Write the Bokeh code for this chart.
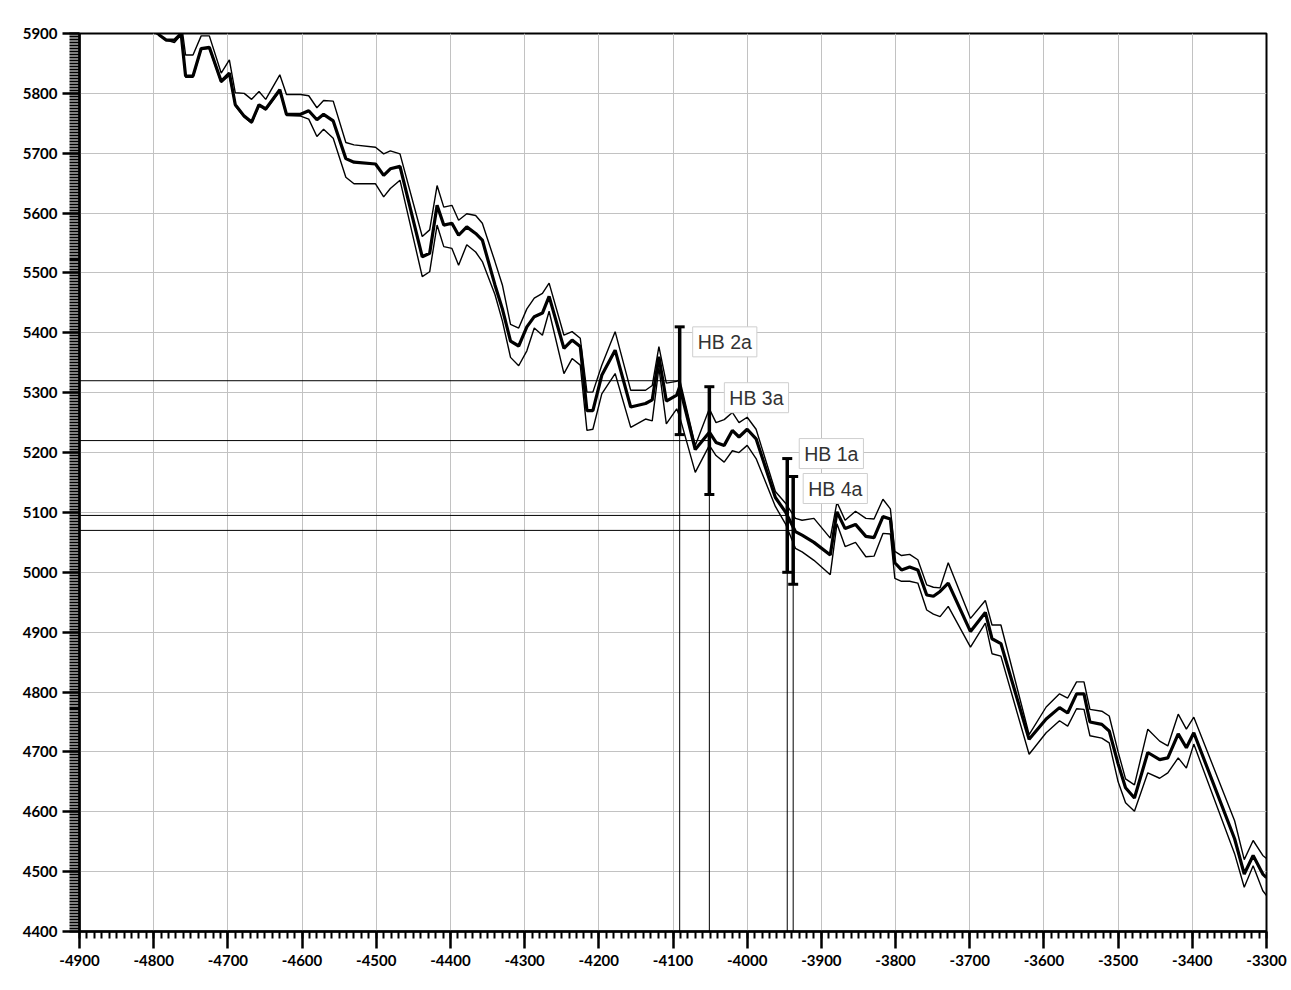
from bokeh.plotting import figure
from bokeh.models import (Range1d, SingleIntervalTicker, ColumnDataSource, Whisker,
                          TeeHead, Label, PrintfTickFormatter, BoxAnnotation)
from bokeh.embed import file_html
from bokeh.resources import INLINE

# ---- calibration curve (cal BC vs 14C BP) ----
cal_year = [
    -4805, -4792, -4783, -4772, -4763, -4757, -4747, -4736, -4725, -4709,
    -4698, -4690, -4678, -4668, -4658, -4649, -4630, -4621, -4602, -4591,
    -4580, -4571, -4558, -4541, -4530, -4501, -4490, -4481, -4468, -4438,
    -4428, -4418, -4409, -4398, -4389, -4378, -4366, -4357, -4340, -4330,
    -4319, -4308, -4297, -4287, -4276, -4267, -4247, -4236, -4225, -4216,
    -4208, -4196, -4178, -4157, -4137, -4128, -4119, -4109, -4095, -4091,
    -4070, -4051, -4042, -4031, -4020, -4011, -4000, -3988, -3962, -3948,
    -3935, -3926, -3910, -3888, -3879, -3868, -3854, -3840, -3829, -3817,
    -3807, -3801, -3792, -3781, -3770, -3758, -3749, -3740, -3729, -3699,
    -3679, -3670, -3658, -3620, -3597, -3579, -3568, -3556, -3546, -3538,
    -3522, -3512, -3500, -3490, -3478, -3460, -3444, -3433, -3419, -3408,
    -3398, -3343, -3330, -3318, -3305, -3300]

c14_mid = [
    5915, 5897, 5889, 5889, 5900, 5829, 5829, 5875, 5877, 5820,
    5834, 5781, 5762, 5752, 5781, 5774, 5806, 5765, 5765, 5771,
    5756, 5765, 5754, 5691, 5685, 5682, 5663, 5674, 5678, 5527,
    5533, 5613, 5580, 5583, 5563, 5577, 5566, 5555, 5480, 5440,
    5386, 5378, 5410, 5427, 5433, 5461, 5374, 5388, 5377, 5270,
    5270, 5329, 5371, 5276, 5282, 5288, 5360, 5286, 5296, 5310,
    5205, 5234, 5217, 5212, 5237, 5226, 5239, 5223, 5125, 5100,
    5068, 5062, 5050, 5029, 5101, 5073, 5080, 5060, 5058, 5093,
    5089, 5016, 5004, 5009, 5004, 4962, 4960, 4968, 4982, 4901,
    4933, 4889, 4881, 4721, 4755, 4774, 4765, 4797, 4797, 4750,
    4746, 4735, 4680, 4640, 4623, 4699, 4687, 4690, 4730, 4707,
    4732, 4555, 4496, 4527, 4496, 4490]

c14_hi = [
    5935, 5915, 5905, 5908, 5920, 5864, 5864, 5896, 5896, 5834,
    5856, 5801, 5800, 5790, 5803, 5790, 5831, 5798, 5798, 5796,
    5776, 5788, 5787, 5718, 5714, 5710, 5699, 5704, 5699, 5561,
    5572, 5646, 5610, 5613, 5588, 5599, 5596, 5583, 5519, 5480,
    5414, 5408, 5440, 5458, 5466, 5483, 5396, 5402, 5391, 5301,
    5301, 5346, 5402, 5304, 5304, 5312, 5377, 5316, 5319, 5322,
    5212, 5273, 5250, 5255, 5267, 5250, 5259, 5239, 5135, 5115,
    5090, 5087, 5090, 5057, 5117, 5087, 5102, 5090, 5089, 5122,
    5106, 5035, 5028, 5030, 5021, 4979, 4975, 4974, 5016, 4923,
    4953, 4912, 4912, 4729, 4775, 4797, 4790, 4817, 4817, 4771,
    4768, 4760, 4700, 4655, 4645, 4738, 4718, 4710, 4763, 4738,
    4758, 4585, 4520, 4552, 4527, 4522]

c14_lo = [
    5905, 5897, 5889, 5885, 5898, 5827, 5827, 5873, 5875, 5818,
    5830, 5779, 5760, 5750, 5779, 5772, 5804, 5763, 5762, 5757,
    5728, 5740, 5725, 5660, 5649, 5649, 5627, 5641, 5655, 5494,
    5502, 5580, 5544, 5541, 5513, 5547, 5535, 5519, 5464, 5420,
    5359, 5345, 5370, 5408, 5396, 5436, 5332, 5357, 5346, 5237,
    5239, 5298, 5332, 5242, 5256, 5253, 5342, 5248, 5273, 5260,
    5167, 5212, 5195, 5184, 5203, 5200, 5212, 5190, 5110, 5080,
    5040, 5034, 5020, 4996, 5081, 5043, 5050, 5026, 5027, 5065,
    5064, 4990, 4985, 4985, 4982, 4937, 4930, 4926, 4943, 4875,
    4915, 4864, 4860, 4696, 4732, 4752, 4743, 4772, 4771, 4727,
    4723, 4715, 4650, 4615, 4601, 4665, 4656, 4665, 4690, 4673,
    4713, 4530, 4474, 4510, 4468, 4460]

# ---- samples ----
sample_names = ["HB 2a", "HB 3a", "HB 1a", "HB 4a"]
sample_cal = [-4091, -4051, -3946, -3938]
sample_c14 = [5320, 5220, 5095, 5070]
sample_err = [90, 90, 95, 90]

x_start, x_end = -4900, -3300
y_start, y_end = 4400, 5900

# label placement (screen px offsets from top of each error bar)
label_dx = [13, 15, 12, 10]
label_dy = [0, 4, 20, 3]

p = figure(frame_width=1187, frame_height=898,
           min_border_left=79, min_border_right=22,
           min_border_top=33, min_border_bottom=53,
           x_range=Range1d(x_start, x_end), y_range=Range1d(y_start, y_end),
           output_backend="svg", toolbar_location=None,
           background_fill_color="white", border_fill_color="white")

p.outline_line_color = "black"
p.outline_line_width = 2

p.xaxis.ticker = SingleIntervalTicker(interval=100, num_minor_ticks=10)
p.yaxis.ticker = SingleIntervalTicker(interval=100, num_minor_ticks=20)
p.xaxis.formatter = PrintfTickFormatter(format="%d")
p.yaxis.formatter = PrintfTickFormatter(format="%d")

for ax in (p.xaxis, p.yaxis):
    ax.axis_line_color = "black"
    ax.axis_line_width = 2.5
    ax.major_tick_line_color = "black"
    ax.minor_tick_line_color = "black"
    ax.major_tick_line_width = 2.5
    ax.minor_tick_line_width = 2
    ax.major_tick_in = 0
    ax.minor_tick_in = 0
    ax.major_tick_out = 17
    ax.major_label_text_font = "Lato"
    ax.major_label_text_font_style = "bold"
    ax.major_label_text_font_size = "15px"
    ax.major_label_text_color = "black"
p.xaxis.minor_tick_out = 7
p.yaxis.minor_tick_out = 10
p.xaxis.major_label_standoff = 6
p.yaxis.major_label_standoff = 5

p.xgrid.grid_line_color = "#c2c2c2"
p.ygrid.grid_line_color = "#c2c2c2"
p.xgrid.grid_line_width = 1
p.ygrid.grid_line_width = 1

# outer page frame (scan border)
p.add_layout(BoxAnnotation(left=4, right=1285, top=10, bottom=980,
                           left_units="canvas", right_units="canvas",
                           top_units="canvas", bottom_units="canvas",
                           fill_alpha=0, line_color="#b0b0b0", line_width=1,
                           level="overlay"))

# curve
p.line(cal_year, c14_hi, line_color="black", line_width=1.4)
p.line(cal_year, c14_lo, line_color="black", line_width=1.4)
p.line(cal_year, c14_mid, line_color="black", line_width=3.2)

# reference lines from the axes to the samples
p.segment(x0=[x_start] * len(sample_cal), y0=sample_c14, x1=sample_cal, y1=sample_c14,
          line_color="black", line_width=1)
p.segment(x0=sample_cal, y0=sample_c14, x1=sample_cal, y1=[y_start] * len(sample_cal),
          line_color="black", line_width=1)

# error bars
src = ColumnDataSource(dict(
    x=sample_cal,
    upper=[c + e for c, e in zip(sample_c14, sample_err)],
    lower=[c - e for c, e in zip(sample_c14, sample_err)],
))
w = Whisker(source=src, base="x", upper="upper", lower="lower", dimension="height",
            line_color="black", line_width=3.5,
            upper_head=TeeHead(size=10, line_width=3, line_color="black"),
            lower_head=TeeHead(size=10, line_width=3, line_color="black"))
p.add_layout(w)

for name, cx, c, e, dx, dy in zip(sample_names, sample_cal, sample_c14, sample_err,
                                  label_dx, label_dy):
    lab = Label(x=cx, y=c + e, x_offset=dx, y_offset=dy, text=name,
                anchor="top_left", padding=(5, 4),
                text_font="Liberation Sans", text_font_size="19.5px",
                text_color="#333333",
                background_fill_color="white",
                border_line_color="#cfcfcf", border_line_width=1)
    p.add_layout(lab)

open("out.html", "w").write(file_html(p, INLINE))
